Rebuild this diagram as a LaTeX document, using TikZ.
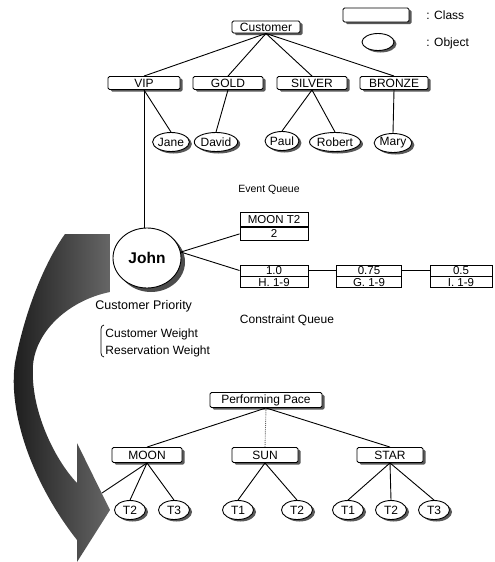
\documentclass[tikz,border=0pt]{standalone}
\usepackage{fontspec}
\setmainfont{Liberation Sans}
\usetikzlibrary{shapes.geometric,shadows}
\begin{document}
\begin{tikzpicture}[x=1pt,y=-1pt,
  line width=0.9pt,
  cls/.style={draw, rounded corners=1.5pt, fill=white, inner sep=0pt,
    minimum height=13pt, font=\fontsize{12}{12}\selectfont,
    drop shadow={shadow xshift=2.5pt, shadow yshift=-2pt, fill=black!65, opacity=1}},
  obj/.style={draw, ellipse, fill=white, inner sep=0pt,
    minimum width=32pt, minimum height=19pt, font=\fontsize{12}{12}\selectfont,
    drop shadow={shadow xshift=2.5pt, shadow yshift=-2pt, fill=black!65, opacity=1}},
  qbox/.style={draw, rectangle, fill=white, inner sep=0pt, font=\fontsize{11.5}{11.5}\selectfont},
  lbl/.style={inner sep=0pt, font=\fontsize{12}{13}\selectfont},
  link/.style={line width=0.9pt}
]
\useasboundingbox (0,0) rectangle (495,562);

% big curved arrow
\shade[left color=black!90, right color=black!60]
  (65,234) .. controls (45,262) and (25,310) .. (15,363)
  .. controls (8,410) and (30,480) .. (77,540)
  -- (77,562) -- (110,510) -- (77,443) -- (77,483)
  .. controls (55,460) and (30,410) .. (33,365)
  .. controls (36,330) and (70,300) .. (110,292)
  -- (110,234) -- cycle;

% legend
\node[cls, minimum width=66pt, minimum height=14pt] (legcls) at (376,15) {};
\node[lbl, anchor=west] (legclst) at (426,15) {: Class};
\node[obj, minimum width=32pt, minimum height=17pt] (legobj) at (378,42) {};
\node[lbl, anchor=west] (legobjt) at (426,43) {: Object};

% customer tree
\node[cls, minimum width=68pt, minimum height=12pt] (cust) at (266,27) {Customer};
\node[cls, minimum width=72pt] (vip) at (144,83) {VIP};
\node[cls, minimum width=70pt] (gold) at (228,83) {GOLD};
\node[cls, minimum width=70pt] (silver) at (312,83) {SILVER};
\node[cls, minimum width=68pt] (bronze) at (394,83) {BRONZE};

\node[obj] (jane) at (171,142) {Jane};
\node[obj, minimum width=34pt] (david) at (216,142) {David};
\node[obj] (paul) at (282,141) {Paul};
\node[obj, minimum width=36pt] (robert) at (335,142) {Robert};
\node[obj, minimum width=34pt] (mary) at (393,143) {Mary};

\draw[link] (cust.south) -- (vip.north);
\draw[link] (cust.south) -- (gold.north);
\draw[link] (cust.south) -- (silver.north);
\draw[link] (cust.south) -- (bronze.north);
\draw[link] (vip.south) -- (jane.north);
\draw[link] (gold.south) -- (david.north);
\draw[link] (silver.south) -- (paul.north);
\draw[link] (silver.south) -- (robert.north);
\draw[link] (bronze.south) -- (mary.north);

% John
\node[obj, minimum width=68pt, minimum height=60pt, font=\fontsize{15.5}{16}\selectfont\bfseries,
  drop shadow={shadow xshift=4pt, shadow yshift=-4pt, fill=black!70, opacity=1}] (john) at (147,258) {John};
\draw[link] (vip.south) -- (vip.south |- john.north);

% event queue
\node[lbl, font=\fontsize{10.5}{11}\selectfont] (evq) at (269,190) {Event Queue};
\node[qbox, minimum width=68pt, minimum height=13.5pt] (eqa) at (274,219.5) {MOON T2};
\node[qbox, minimum width=68pt, minimum height=13.5pt, anchor=north] (eqb) at (eqa.south) {2};

% constraint queue
\node[qbox, minimum width=68pt, minimum height=11pt] (c1a) at (274,270.5) {1.0};
\node[qbox, minimum width=68pt, minimum height=11pt, anchor=north] (c1b) at (c1a.south) {H. 1-9};
\node[qbox, minimum width=65pt, minimum height=11pt] (c2a) at (369,270.5) {0.75};
\node[qbox, minimum width=65pt, minimum height=11pt, anchor=north] (c2b) at (c2a.south) {G. 1-9};
\node[qbox, minimum width=62pt, minimum height=11pt] (c3a) at (461,270.5) {0.5};
\node[qbox, minimum width=62pt, minimum height=11pt, anchor=north] (c3b) at (c3a.south) {I. 1-9};
\node[lbl] (cq) at (287,320) {Constraint Queue};

\draw[link] (john.10) -- (eqb.west);
\draw[link] (john.10) -- (c1a.west);
\draw[link] (c1a.east) -- (c2a.west);
\draw[link] (c2a.east) -- (c3a.west);

% customer priority
\node[lbl, anchor=west, font=\fontsize{12.5}{13}\selectfont] (cp) at (95,306) {Customer Priority};
\node[lbl, anchor=west] (cw) at (105,334) {Customer Weight};
\node[lbl, anchor=west] (rw) at (105,351) {Reservation Weight};
\draw[line width=0.7pt] (104,325) to[out=180,in=90] (101,329) -- (101,353) to[out=-90,in=180] (104,357);

% performing place tree
\node[cls, minimum width=112pt, minimum height=15pt] (pp) at (266,400) {Performing Pace};
\node[cls, minimum width=70pt, minimum height=15pt] (moon) at (147,455) {MOON};
\node[cls, minimum width=66pt, minimum height=15pt] (sun) at (265,455) {SUN};
\node[cls, minimum width=66pt, minimum height=15pt] (star) at (390,455) {STAR};

\node[obj, minimum width=31pt] (mt2) at (130,510) {T2};
\node[obj, minimum width=31pt] (mt3) at (174,510) {T3};
\node[obj, minimum width=31pt] (st1) at (238,510) {T1};
\node[obj, minimum width=31pt] (st2) at (297,510) {T2};
\node[obj, minimum width=31pt] (rt1) at (348,510) {T1};
\node[obj, minimum width=31pt] (rt2) at (391,510) {T2};
\node[obj, minimum width=31pt] (rt3) at (434,510) {T3};
\coordinate (mt1) at (102,493);

\draw[link] (pp.south) -- (moon.north);
\draw[link, black!60, densely dotted] (pp.south) -- (sun.north);
\draw[link] (pp.south) -- (star.north);
\draw[link] (moon.south) -- (mt1);
\draw[link] (moon.south) -- (mt2.north);
\draw[link] (moon.south) -- (mt3.north);
\draw[link] (sun.south) -- (st1.north);
\draw[link] (sun.south) -- (st2.north);
\draw[link] (star.south) -- (rt1.north);
\draw[link] (star.south) -- (rt2.north);
\draw[link] (star.south) -- (rt3.north);
\end{tikzpicture}
\end{document}
